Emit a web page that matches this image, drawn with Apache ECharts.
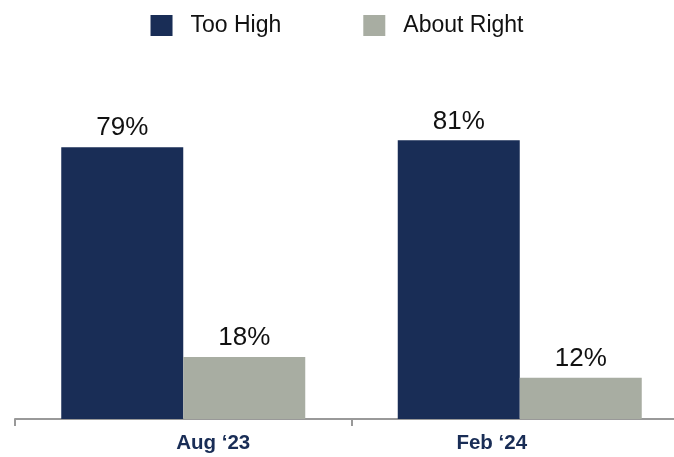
<!DOCTYPE html>
<html>
<head>
<meta charset="utf-8">
<script src="https://cdn.jsdelivr.net/npm/echarts@6/dist/echarts.min.js"></script>
<style>
  html, body { margin: 0; padding: 0; background: #fff; }
  #chart { width: 674px; height: 457px; }
</style>
</head>
<body>
<div id="chart"></div>
<script>
var categories = ['Aug \u201823', 'Feb \u201824'];
var seriesNames = ['Too High', 'About Right'];
var tooHigh = [79, 81];
var aboutRight = [18, 12];
var colors = ['#192D56', '#A8ADA2'];

var font = 'Arial, "Liberation Sans", sans-serif';

var labelStyle = {
    show: true,
    position: 'top',
    distance: 6,
    formatter: '{c}%',
    color: '#111',
    fontSize: 26,
    fontFamily: font
};

var catText = {
    color: '#192D56',
    fontWeight: 'bold',
    fontSize: 20.5,
    fontFamily: font
};

var option = {
    animation: false,
    color: colors,
    legend: {
        data: seriesNames,
        top: 9,
        left: 'center',
        itemWidth: 22,
        itemHeight: 21,
        itemGap: 82,
        icon: 'rect',
        textStyle: {
            fontSize: 23,
            color: '#111',
            fontFamily: font,
            padding: [0, 0, 0, 13]
        }
    },
    grid: {
        left: 15,
        right: -14,
        top: 75,
        bottom: 38,
        containLabel: false,
        outerBoundsMode: 'none'
    },
    xAxis: {
        type: 'category',
        data: categories,
        axisLine: {
            lineStyle: { color: '#999', width: 2 }
        },
        axisTick: {
            show: true,
            length: 7,
            lineStyle: { color: '#999', width: 2 }
        },
        axisLabel: {
            margin: 14,
            formatter: function (v, i) {
                return i === 0 ? '{l|' + v + '}' : '{r|' + v + '}';
            },
            rich: {
                l: Object.assign({ padding: [0, 0, 0, 60] }, catText),
                r: Object.assign({ padding: [0, 56, 0, 0] }, catText)
            }
        }
    },
    yAxis: {
        type: 'value',
        min: 0,
        max: 100,
        show: false,
        splitLine: { show: false }
    },
    series: [
        {
            name: seriesNames[0],
            type: 'bar',
            data: tooHigh,
            barWidth: 122,
            barGap: '0%',
            label: labelStyle
        },
        {
            name: seriesNames[1],
            type: 'bar',
            data: aboutRight,
            barWidth: 122,
            barGap: '0%',
            label: labelStyle
        }
    ]
};

var chart = echarts.init(document.getElementById('chart'));
chart.setOption(option);
</script>
</body>
</html>
